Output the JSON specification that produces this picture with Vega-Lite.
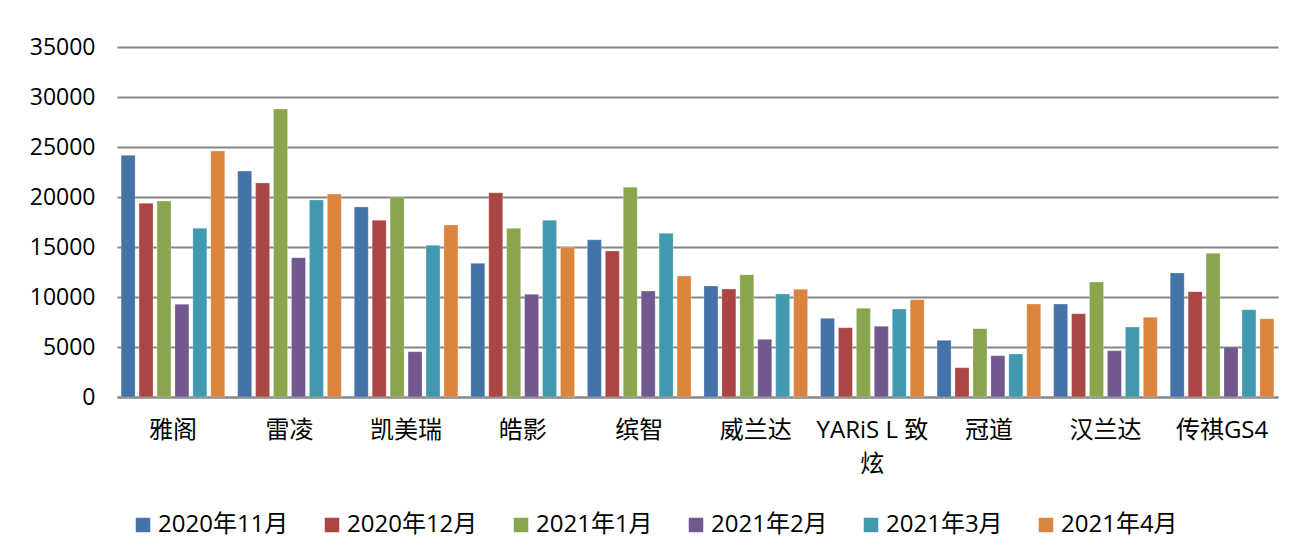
{
  "$schema": "https://vega.github.io/schema/vega-lite/v6.json",
  "autosize": {"type": "none"},
  "padding": {"left": 117, "top": 47, "right": 20, "bottom": 162},
  "width": 1161,
  "height": 350,
  "background": "white",
  "config": {
    "font": "Open Sans, Noto Sans CJK SC",
    "view": {"stroke": null}
  },
  "data": {
    "values": [
      {"model": "雅阁", "month": "2020年11月", "sales": 24170},
      {"model": "雅阁", "month": "2020年12月", "sales": 19370},
      {"model": "雅阁", "month": "2021年1月", "sales": 19600},
      {"model": "雅阁", "month": "2021年2月", "sales": 9270},
      {"model": "雅阁", "month": "2021年3月", "sales": 16870},
      {"model": "雅阁", "month": "2021年4月", "sales": 24600},
      {"model": "雷凌", "month": "2020年11月", "sales": 22600},
      {"model": "雷凌", "month": "2020年12月", "sales": 21400},
      {"model": "雷凌", "month": "2021年1月", "sales": 28800},
      {"model": "雷凌", "month": "2021年2月", "sales": 13930},
      {"model": "雷凌", "month": "2021年3月", "sales": 19700},
      {"model": "雷凌", "month": "2021年4月", "sales": 20300},
      {"model": "凯美瑞", "month": "2020年11月", "sales": 19000},
      {"model": "凯美瑞", "month": "2020年12月", "sales": 17670},
      {"model": "凯美瑞", "month": "2021年1月", "sales": 20000},
      {"model": "凯美瑞", "month": "2021年2月", "sales": 4530},
      {"model": "凯美瑞", "month": "2021年3月", "sales": 15170},
      {"model": "凯美瑞", "month": "2021年4月", "sales": 17200},
      {"model": "皓影", "month": "2020年11月", "sales": 13370},
      {"model": "皓影", "month": "2020年12月", "sales": 20430},
      {"model": "皓影", "month": "2021年1月", "sales": 16870},
      {"model": "皓影", "month": "2021年2月", "sales": 10270},
      {"model": "皓影", "month": "2021年3月", "sales": 17670},
      {"model": "皓影", "month": "2021年4月", "sales": 14970},
      {"model": "缤智", "month": "2020年11月", "sales": 15730},
      {"model": "缤智", "month": "2020年12月", "sales": 14600},
      {"model": "缤智", "month": "2021年1月", "sales": 20970},
      {"model": "缤智", "month": "2021年2月", "sales": 10600},
      {"model": "缤智", "month": "2021年3月", "sales": 16370},
      {"model": "缤智", "month": "2021年4月", "sales": 12100},
      {"model": "威兰达", "month": "2020年11月", "sales": 11100},
      {"model": "威兰达", "month": "2020年12月", "sales": 10800},
      {"model": "威兰达", "month": "2021年1月", "sales": 12230},
      {"model": "威兰达", "month": "2021年2月", "sales": 5770},
      {"model": "威兰达", "month": "2021年3月", "sales": 10300},
      {"model": "威兰达", "month": "2021年4月", "sales": 10770},
      {"model": "YARiS L 致炫", "month": "2020年11月", "sales": 7870},
      {"model": "YARiS L 致炫", "month": "2020年12月", "sales": 6930},
      {"model": "YARiS L 致炫", "month": "2021年1月", "sales": 8870},
      {"model": "YARiS L 致炫", "month": "2021年2月", "sales": 7070},
      {"model": "YARiS L 致炫", "month": "2021年3月", "sales": 8800},
      {"model": "YARiS L 致炫", "month": "2021年4月", "sales": 9730},
      {"model": "冠道", "month": "2020年11月", "sales": 5670},
      {"model": "冠道", "month": "2020年12月", "sales": 2930},
      {"model": "冠道", "month": "2021年1月", "sales": 6830},
      {"model": "冠道", "month": "2021年2月", "sales": 4130},
      {"model": "冠道", "month": "2021年3月", "sales": 4300},
      {"model": "冠道", "month": "2021年4月", "sales": 9300},
      {"model": "汉兰达", "month": "2020年11月", "sales": 9300},
      {"model": "汉兰达", "month": "2020年12月", "sales": 8330},
      {"model": "汉兰达", "month": "2021年1月", "sales": 11500},
      {"model": "汉兰达", "month": "2021年2月", "sales": 4630},
      {"model": "汉兰达", "month": "2021年3月", "sales": 7000},
      {"model": "汉兰达", "month": "2021年4月", "sales": 7970},
      {"model": "传祺GS4", "month": "2020年11月", "sales": 12400},
      {"model": "传祺GS4", "month": "2020年12月", "sales": 10530},
      {"model": "传祺GS4", "month": "2021年1月", "sales": 14370},
      {"model": "传祺GS4", "month": "2021年2月", "sales": 5000},
      {"model": "传祺GS4", "month": "2021年3月", "sales": 8730},
      {"model": "传祺GS4", "month": "2021年4月", "sales": 7830}
    ]
  },
  "mark": {"type": "bar", "stroke": "white", "strokeOpacity": 0.5, "strokeWidth": 0.5},
  "encoding": {
    "x": {
      "field": "model",
      "type": "nominal",
      "sort": null,
      "scale": {"paddingInner": 0.08, "paddingOuter": 0.02},
      "axis": {
        "title": null,
        "labelAngle": 0,
        "labelFontSize": 24,
        "labelColor": "#000000",
        "labelPadding": 21,
        "labelLineHeight": 34,
        "labelExpr": "datum.label == 'YARiS L 致炫' ? ['YARiS L 致', '炫'] : datum.label",
        "domainColor": "#868686",
        "domainWidth": 2,
        "ticks": false
      }
    },
    "xOffset": {
      "field": "month",
      "type": "nominal",
      "sort": null,
      "scale": {"paddingInner": 0.22, "paddingOuter": 0.1}
    },
    "y": {
      "field": "sales",
      "type": "quantitative",
      "scale": {"domain": [0, 35000], "nice": false},
      "axis": {
        "title": null,
        "format": "d",
        "values": [0, 5000, 10000, 15000, 20000, 25000, 30000, 35000],
        "labelFontSize": 23,
        "labelColor": "#000000",
        "labelPadding": 22,
        "ticks": false,
        "domain": false,
        "gridColor": "#868686",
        "gridWidth": 2
      }
    },
    "color": {
      "field": "month",
      "type": "nominal",
      "sort": null,
      "scale": {
        "range": ["#4572A7", "#AA4643", "#89A54E", "#71588F", "#4198AF", "#DB843D"]
      },
      "legend": {
        "title": null,
        "orient": "none",
        "legendX": 14,
        "legendY": 466,
        "direction": "horizontal",
        "symbolType": "square",
        "symbolSize": 210,
        "symbolStrokeWidth": 0,
        "labelFontSize": 24,
        "labelColor": "#000000",
        "labelOffset": 3,
        "columnPadding": 31
      }
    }
  }
}
